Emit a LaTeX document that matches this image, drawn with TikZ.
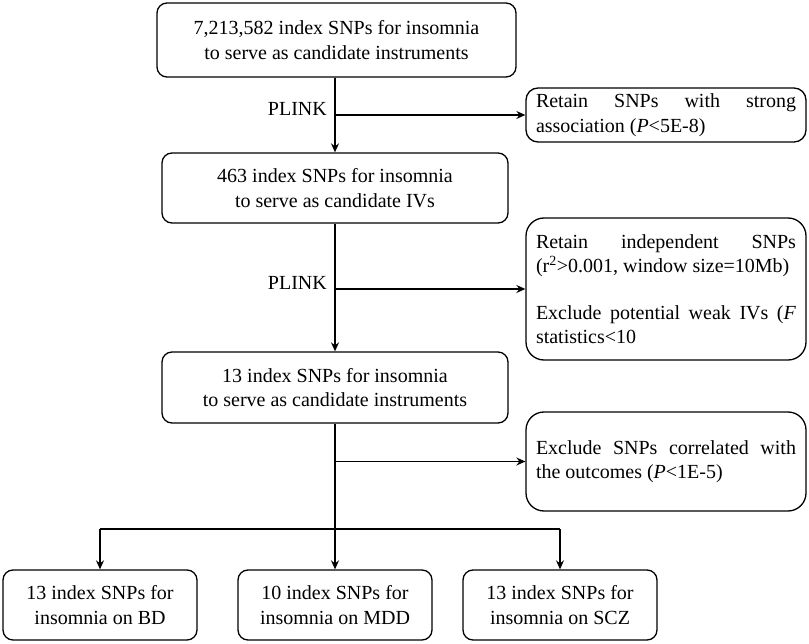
\documentclass[tikz,border=0pt]{standalone}
\usepackage{fontspec}
\setmainfont{Liberation Serif}
\usetikzlibrary{arrows.meta}
\begin{document}
\begin{tikzpicture}[x=1pt,y=-1pt,
  every node/.style={font=\fontsize{20pt}{24.5pt}\selectfont, inner sep=0pt},
  box/.style={draw, line width=1.3pt, rounded corners=10pt, align=center},
  sidebox/.style={draw, line width=1.3pt, rounded corners=12pt, align=left, minimum width=280pt},
  conn/.style={line width=1.3pt},
  arr/.style={line width=1.3pt, -{Stealth[length=9pt,width=8pt,inset=3pt]}},
  lbl/.style={anchor=east}
]
\useasboundingbox (0,0) rectangle (809,644);

\node[box, minimum width=359pt, minimum height=74pt] (b1) at (336.5,40)
  {7,213,582 index SNPs for insomnia\\to serve as candidate instruments};
\node[box, minimum width=346pt, minimum height=70pt] (b2) at (335,188)
  {463 index SNPs for insomnia\\to serve as candidate IVs};
\node[box, minimum width=346pt, minimum height=71pt] (b3) at (335,387.5)
  {13 index SNPs for insomnia\\to serve as candidate instruments};

\node[sidebox, minimum height=54pt] (r1) at (666,115)
  {\hbox to 260pt{Retain SNPs with strong}\\association (\textit{P}<5E-8)};
\node[sidebox, minimum height=142pt, rounded corners=18pt] (r2) at (666,289)
  {\hbox to 260pt{Retain independent SNPs}\\(r\textsuperscript{2}>0.001, window size=10Mb)\\[22pt]\hbox to 260pt{Exclude potential weak IVs (\textit{F}}\\statistics<10};
\node[sidebox, minimum height=99pt, rounded corners=18pt] (r3) at (666,461.5)
  {\hbox to 260pt{Exclude SNPs correlated with}\\the outcomes (\textit{P}<1E-5)};

\node[box, minimum width=194pt, minimum height=70pt] (bd) at (100,605)
  {13 index SNPs for\\insomnia on BD};
\node[box, minimum width=194pt, minimum height=70pt] (mdd) at (335,605)
  {10 index SNPs for\\insomnia on MDD};
\node[box, minimum width=194pt, minimum height=70pt] (scz) at (560,605)
  {13 index SNPs for\\insomnia on SCZ};

\coordinate (j) at (335,529);

\draw[arr] (b2.north |- b1.south) -- (b2.north);
\draw[arr] (b2.north |- r1.west) -- (r1.west);
\node[lbl] (p1) at (327,109) {PLINK};

\draw[arr] (b2.south) -- (b3.north);
\draw[arr] (b3.north |- r2.west) -- (r2.west);
\node[lbl] (p2) at (327,283) {PLINK};

\draw[arr] (b3.south) -- (mdd.north);
\draw[arr] (b3.south |- r3.west) -- (r3.west);
\draw[conn] (bd.north |- j) -- (scz.north |- j);
\draw[arr] (bd.north |- j) -- (bd.north);
\draw[arr] (scz.north |- j) -- (scz.north);
\end{tikzpicture}
\end{document}
